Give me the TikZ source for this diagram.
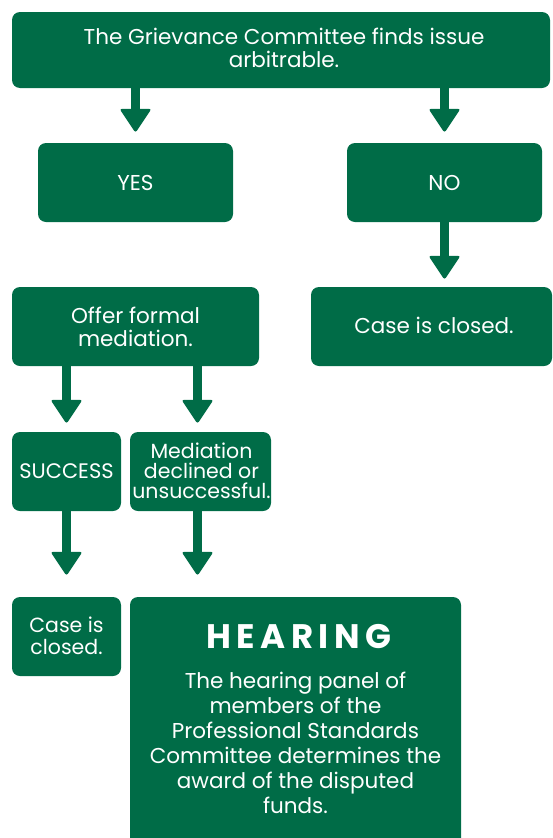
\documentclass[tikz,border=0pt]{standalone}
\usepackage{fontspec}
\setmainfont{Poppins}
\usetikzlibrary{calc}
\definecolor{gr}{RGB}{0,108,71}
\tikzset{
  box/.style={fill=gr, rounded corners=8pt, text=white, align=center, inner sep=0pt, anchor=center},
  txt/.style={text=white, align=center, inner sep=0pt, anchor=center, font=\fontsize{21.5}{23}\selectfont},
}
\newcommand{\fatarrow}[2]{%
  \fill[gr] ($(#1)+(-4.5,0)$) rectangle ($(#2)+(4.5,-22)$);
  \fill[gr, rounded corners=2.5pt] ($(#2)+(-16,-24)$) -- (#2) -- ($(#2)+(16,-24)$) -- cycle;
}
\begin{document}
\begin{tikzpicture}[x=1pt,y=-1pt]
\useasboundingbox (0,0) rectangle (552,838);
% boxes
\node[box, minimum width=538, minimum height=76] (top) at (281,50) {};
\node[txt] (toptxt) at (284,48) {The Grievance Committee finds issue\\arbitrable.};
\node[box, minimum width=195, minimum height=79] (yes) at (135.5,182.5) {};
\node[txt] (yestxt) at (yes.center) {YES};
\node[box, minimum width=195, minimum height=79] (no) at (444.5,182.5) {};
\node[txt] (notxt) at (no.center) {NO};
\node[box, minimum width=247, minimum height=79] (offer) at (135.5,326.5) {};
\node[txt] (offertxt) at (135.5,326.5) {Offer formal\\mediation.};
\node[box, minimum width=241, minimum height=79] (closedr) at (431.5,326.5) {};
\node[txt] (closedrtxt) at (434,325.5) {Case is closed.};
\node[box, minimum width=109, minimum height=79] (succ) at (66.5,471.5) {};
\node[txt, font=\fontsize{21}{20}\selectfont] (succtxt) at (66.5,471) {SUCCESS};
\node[box, minimum width=141, minimum height=79] (med) at (200.5,471.5) {};
\node[txt, font=\fontsize{20.5}{20}\selectfont] (medtxt) at (201.5,471) {Mediation\\declined or\\unsuccessful.};
\node[box, minimum width=109, minimum height=79] (closedl) at (66.5,636.5) {};
\node[txt, font=\fontsize{20.5}{22}\selectfont] (closedltxt) at (66.5,635.5) {Case is\\closed.};
\node[box, minimum width=331, minimum height=260] (hear) at (295.5,727) {};
\node[txt, font=\fontsize{34}{36}\selectfont\bfseries\addfontfeatures{LetterSpace=16}] (heartitle) at (299,637) {HEARING};
\node[txt, font=\fontsize{21.5}{25}\selectfont] (hearbody) at (295.5,743) {The hearing panel of\\members of the\\Professional Standards\\Committee determines the\\award of the disputed\\funds.};
% arrows
\coordinate (a1s) at (top.south -| yes.north);
\coordinate (a1e) at ($(yes.north)+(0,-10)$);
\fatarrow{a1s}{a1e}
\coordinate (a2s) at (top.south -| no.north);
\coordinate (a2e) at ($(no.north)+(0,-10)$);
\fatarrow{a2s}{a2e}
\coordinate (a3s) at (no.south);
\coordinate (a3e) at ($(closedr.north -| no.south)+(0,-7)$);
\fatarrow{a3s}{a3e}
\coordinate (a4s) at (offer.south -| succ.north);
\coordinate (a4e) at ($(succ.north)+(0,-8)$);
\fatarrow{a4s}{a4e}
\coordinate (a5s) at ($(offer.south -| med.north)+(-3,0)$);
\coordinate (a5e) at ($(med.north)+(-3,-8)$);
\fatarrow{a5s}{a5e}
\coordinate (a6s) at (succ.south);
\coordinate (a6e) at ($(closedl.north)+(0,-21)$);
\fatarrow{a6s}{a6e}
\coordinate (a7s) at ($(med.south)+(-3,0)$);
\coordinate (a7e) at ($(med.south |- hear.north)+(-3,-21)$);
\fatarrow{a7s}{a7e}
\end{tikzpicture}
\end{document}
